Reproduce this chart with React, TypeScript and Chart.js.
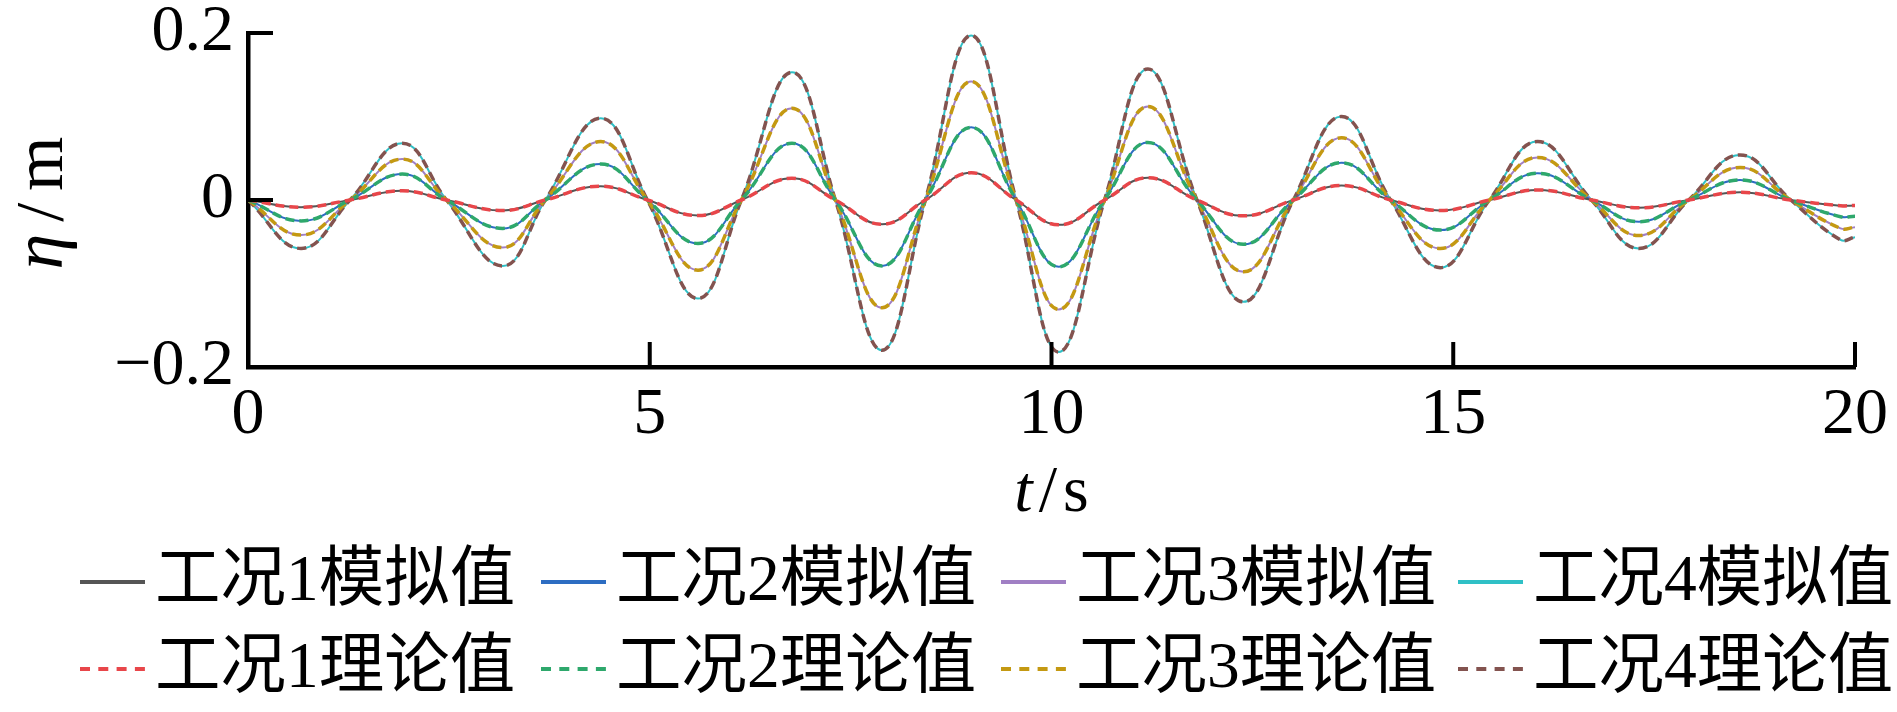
import React, { useEffect, useRef } from "react";
import { Chart, registerables } from "chart.js";

Chart.register(...registerables);

// time (s) of zero crossings and crests/troughs
const timeS = [
  0, 0.66, 1.27, 1.92, 2.47, 3.17, 3.7, 4.39, 4.97, 5.6, 6.14, 6.77, 7.31, 7.89, 8.43, 9.0,
  9.56, 10.09, 10.66, 11.2, 11.81, 12.39, 13.01, 13.61, 14.22, 14.84, 15.45, 16.05, 16.72,
  17.31, 17.93, 18.57, 19.2, 19.82, 20.0,
];

// 工况1 (smallest amplitude)
const case1Theory = [
  0, -0.0086, 0, 0.011, 0, -0.0126, 0, 0.0165, 0, -0.0186, 0, 0.026, 0, -0.029, 0, 0.0326,
  0, -0.0297, 0, 0.0266, 0, -0.019, 0, 0.0174, 0, -0.0126, 0, 0.012, 0, -0.0093, 0, 0.0093,
  0, -0.0068, -0.0066,
];
const case1Sim = [
  0, -0.0086, 0, 0.011, 0, -0.0126, 0, 0.0165, 0, -0.0186, 0, 0.026, 0, -0.029, 0, 0.0326,
  0, -0.0297, 0, 0.0266, 0, -0.019, 0, 0.0174, 0, -0.0126, 0, 0.012, 0, -0.0093, 0, 0.0093,
  0, -0.0068, -0.0066,
];

// 工况2
const case2Theory = [
  0, -0.025, 0, 0.031, 0, -0.034, 0, 0.043, 0, -0.052, 0, 0.068, 0, -0.079, 0, 0.087, 0,
  -0.08, 0, 0.069, 0, -0.053, 0, 0.0446, 0, -0.036, 0, 0.032, 0, -0.026, 0, 0.024, 0, -0.02,
  -0.0194,
];
const case2Sim = [
  0, -0.025, 0, 0.031, 0, -0.034, 0, 0.043, 0, -0.052, 0, 0.068, 0, -0.079, 0, 0.087, 0,
  -0.08, 0, 0.069, 0, -0.053, 0, 0.0446, 0, -0.036, 0, 0.032, 0, -0.026, 0, 0.024, 0, -0.02,
  -0.0194,
];

// 工况3
const case3Theory = [
  0, -0.042, 0, 0.049, 0, -0.057, 0, 0.07, 0, -0.084, 0, 0.11, 0, -0.129, 0, 0.142, 0,
  -0.131, 0, 0.112, 0, -0.086, 0, 0.0745, 0, -0.058, 0, 0.051, 0, -0.0425, 0, 0.039, 0,
  -0.034, -0.0326,
];
const case3Sim = [
  0, -0.042, 0, 0.049, 0, -0.057, 0, 0.07, 0, -0.084, 0, 0.11, 0, -0.129, 0, 0.142, 0,
  -0.131, 0, 0.112, 0, -0.086, 0, 0.0745, 0, -0.058, 0, 0.051, 0, -0.0425, 0, 0.039, 0,
  -0.034, -0.0326,
];

// 工况4 (largest amplitude)
const case4Theory = [
  0, -0.058, 0, 0.068, 0, -0.079, 0, 0.098, 0, -0.118, 0, 0.153, 0, -0.18, 0, 0.197, 0,
  -0.182, 0, 0.157, 0, -0.122, 0, 0.1, 0, -0.081, 0, 0.07, 0, -0.058, 0, 0.054, 0, -0.0477,
  -0.0445,
];
const case4Sim = [
  0, -0.058, 0, 0.068, 0, -0.079, 0, 0.098, 0, -0.118, 0, 0.153, 0, -0.18, 0, 0.197, 0,
  -0.182, 0, 0.157, 0, -0.122, 0, 0.1, 0, -0.081, 0, 0.07, 0, -0.058, 0, 0.054, 0, -0.0477,
  -0.0445,
];

const xTickValues = [0, 5, 10, 15, 20];
const yTickValues = [-0.2, 0, 0.2];
const yTickLabels = ["\u22120.2", "0", "0.2"];

const simLabels = ["工况1模拟值", "工况2模拟值", "工况3模拟值", "工况4模拟值"];
const theoryLabels = ["工况1理论值", "工况2理论值", "工况3理论值", "工况4理论值"];
const simColors = ["#555555", "#2d6dc2", "#a07fc4", "#2fc0c6"];
const theoryColors = ["#e8464a", "#2ea86c", "#c49912", "#83534f"];

const SERIF = "'Liberation Serif', 'Times New Roman', serif";
const LEGEND_FONT = "65.5px 'Liberation Serif', 'Noto Sans CJK SC', serif";

const toPoints = (vals: number[]) => vals.map((v, i) => ({ x: timeS[i], y: v }));

const decorPlugin = {
  id: "decor",
  afterDraw(chart: any) {
    const { ctx, chartArea, scales } = chart;
    const xs = scales.x;
    const ys = scales.y;
    ctx.save();
    // inward tick marks
    ctx.strokeStyle = "#000";
    ctx.lineWidth = 4;
    ctx.setLineDash([]);
    ctx.lineCap = "butt";
    for (const v of xTickValues) {
      const px = xs.getPixelForValue(v);
      ctx.beginPath();
      ctx.moveTo(px, chartArea.bottom);
      ctx.lineTo(px, chartArea.bottom - 25);
      ctx.stroke();
    }
    for (const v of yTickValues) {
      const py = ys.getPixelForValue(v);
      ctx.beginPath();
      ctx.moveTo(chartArea.left, py);
      ctx.lineTo(chartArea.left + 25, py);
      ctx.stroke();
    }

    // axis titles with italic symbols
    const drawParts = (parts: { t: string; f: string }[], gap: number) => {
      let total = 0;
      const widths = parts.map((p) => {
        ctx.font = p.f;
        const w = ctx.measureText(p.t).width;
        total += w;
        return w;
      });
      total += gap * (parts.length - 1);
      let x = -total / 2;
      parts.forEach((p, i) => {
        ctx.font = p.f;
        ctx.fillText(p.t, x, 0);
        x += widths[i] + gap;
      });
    };
    ctx.fillStyle = "#000";
    ctx.textAlign = "left";
    ctx.textBaseline = "alphabetic";
    ctx.save();
    ctx.translate((chartArea.left + chartArea.right) / 2, 511);
    drawParts(
      [
        { t: "t", f: `italic 66px ${SERIF}` },
        { t: "/", f: `66px ${SERIF}` },
        { t: "s", f: `66px ${SERIF}` },
      ],
      6
    );
    ctx.restore();
    ctx.save();
    ctx.translate(62, 203);
    ctx.rotate(-Math.PI / 2);
    drawParts(
      [
        { t: "η", f: `italic 72px ${SERIF}` },
        { t: "/", f: `68px ${SERIF}` },
        { t: "m", f: `70px ${SERIF}` },
      ],
      12
    );
    ctx.restore();

    // legend: 2 rows x 4 columns
    const datasets = chart.data.datasets;
    const lineLen = 65;
    const textGap = 10;
    const colX = [80, 541, 1001, 1458];
    const rowY = [582, 669];
    datasets.forEach((ds: any, i: number) => {
      const row = i < 4 ? 0 : 1;
      const x0 = colX[i % 4];
      const y0 = rowY[row];
      ctx.strokeStyle = ds.borderColor;
      ctx.lineWidth = 4;
      ctx.setLineDash(ds.borderDash && ds.borderDash.length ? [10, 8.3] : []);
      ctx.beginPath();
      ctx.moveTo(x0, y0);
      ctx.lineTo(x0 + lineLen, y0);
      ctx.stroke();
      ctx.setLineDash([]);
      ctx.fillStyle = "#000";
      ctx.font = LEGEND_FONT;
      ctx.textBaseline = "middle";
      ctx.textAlign = "left";
      ctx.fillText(ds.label, x0 + lineLen + textGap, y0 + 1);
    });
    ctx.restore();
  },
};

export default function App() {
  const ref = useRef<HTMLCanvasElement | null>(null);

  useEffect(() => {
    document.body.style.margin = "0";
    const canvas = ref.current;
    if (!canvas) return;

    const simSets = [case1Sim, case2Sim, case3Sim, case4Sim].map((vals, i) => ({
      label: simLabels[i],
      data: toPoints(vals),
      borderColor: simColors[i],
      backgroundColor: simColors[i],
      borderWidth: 2,
      borderDash: [],
      pointRadius: 0,
      tension: 0.42,
      fill: false,
      order: 2,
    }));
    const theorySets = [case1Theory, case2Theory, case3Theory, case4Theory].map((vals, i) => ({
      label: theoryLabels[i],
      data: toPoints(vals),
      borderColor: theoryColors[i],
      backgroundColor: theoryColors[i],
      borderWidth: 3.5,
      borderDash: [9, 5],
      pointRadius: 0,
      tension: 0.42,
      fill: false,
      order: 1,
    }));

    const chart = new Chart(canvas, {
      type: "line",
      data: { datasets: [...simSets, ...theorySets] as any },
      options: {
        responsive: false,
        devicePixelRatio: 1,
        animation: false,
        events: [],
        layout: { padding: { top: 33, right: 42, left: 0, bottom: 0 } },
        plugins: {
          legend: { display: false },
          tooltip: { enabled: false },
          title: { display: false },
        },
        scales: {
          x: {
            type: "linear",
            min: 0,
            max: 20,
            afterBuildTicks: (s: any) => {
              s.ticks = xTickValues.map((v) => ({ value: v }));
            },
            afterFit: (s: any) => {
              s.height = 345;
              s.paddingLeft = 0;
              s.paddingRight = 0;
            },
            ticks: {
              color: "#000",
              padding: 16,
              maxRotation: 0,
              autoSkip: false,
              font: { family: SERIF, size: 66, lineHeight: 1 },
            },
            grid: { display: false, drawTicks: false },
            border: { display: true, color: "#000", width: 4.5 },
          },
          y: {
            type: "linear",
            min: -0.2,
            max: 0.2,
            afterBuildTicks: (s: any) => {
              s.ticks = yTickValues.map((v) => ({ value: v }));
            },
            afterFit: (s: any) => {
              s.width = 248;
              s.paddingTop = 0;
              s.paddingBottom = 0;
            },
            ticks: {
              color: "#000",
              padding: 14,
              autoSkip: false,
              font: { family: SERIF, size: 66, lineHeight: 1 },
              callback: (_v: any, idx: number) => yTickLabels[idx],
            },
            grid: { display: false, drawTicks: false },
            border: { display: true, color: "#000", width: 4.5 },
          },
        },
      },
      plugins: [decorPlugin],
    });

    return () => chart.destroy();
  }, []);

  return (
    <canvas
      ref={ref}
      width={1897}
      height={712}
      style={{ display: "block", width: "1897px", height: "712px" }}
    />
  );
}
